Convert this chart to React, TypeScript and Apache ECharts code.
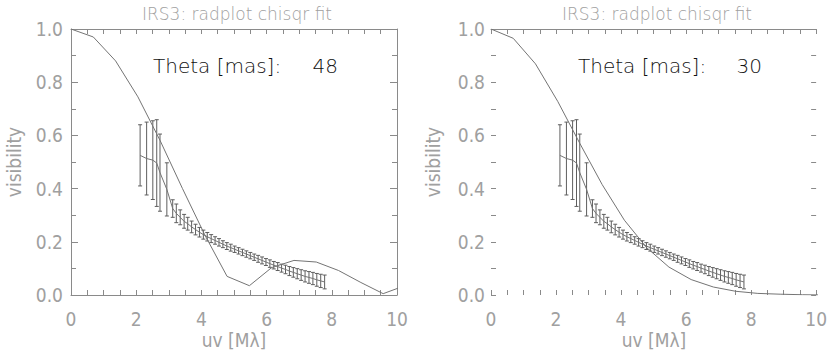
import React, { useEffect, useRef } from "react";
import * as echarts from "echarts";

// model sample positions (uv, Mλ)
const MODEL_UV = [0, 0.684, 1.368, 2.052, 2.736, 3.42, 4.104, 4.788, 5.472, 6.156, 6.84, 7.524, 8.208, 8.892, 9.576, 10.26];
// left panel model (Theta 48 mas)
const LEFT_MODEL = [1.0, 0.97, 0.88, 0.745, 0.58, 0.40, 0.226, 0.07, 0.035, 0.103, 0.13, 0.124, 0.092, 0.047, 0.005, 0.036];
// right panel model (Theta 30 mas)
const RIGHT_MODEL = [1.0, 0.965, 0.869, 0.728, 0.569, 0.415, 0.281, 0.178, 0.105, 0.058, 0.03, 0.014, 0.006, 0.003, 0.001, 0.0];

// observed visibilities
const UV = [2.12, 2.32, 2.51, 2.63, 2.73, 2.94, 3.12, 3.23, 3.35, 3.47, 3.58, 3.70, 3.82, 3.94, 4.06, 4.18, 4.30, 4.42, 4.54, 4.66, 4.78, 4.90, 5.02, 5.14, 5.26, 5.38, 5.50, 5.62, 5.74, 5.86, 5.98, 6.10, 6.22, 6.34, 6.46, 6.58, 6.70, 6.82, 6.94, 7.06, 7.18, 7.30, 7.42, 7.54, 7.66, 7.78];
const VIS = [0.525, 0.513, 0.507, 0.496, 0.46, 0.397, 0.325, 0.307, 0.292, 0.277, 0.268, 0.256, 0.246, 0.236, 0.227, 0.219, 0.212, 0.205, 0.198, 0.191, 0.184, 0.178, 0.172, 0.166, 0.160, 0.154, 0.148, 0.142, 0.136, 0.130, 0.124, 0.118, 0.112, 0.107, 0.101, 0.096, 0.090, 0.085, 0.080, 0.075, 0.070, 0.066, 0.062, 0.057, 0.053, 0.049];
const ERR = [0.115, 0.137, 0.148, 0.163, 0.145, 0.10, 0.033, 0.035, 0.028, 0.026, 0.024, 0.022, 0.02, 0.018, 0.017, 0.016, 0.015, 0.014, 0.014, 0.013, 0.013, 0.013, 0.012, 0.012, 0.012, 0.012, 0.012, 0.012, 0.013, 0.013, 0.013, 0.014, 0.014, 0.015, 0.015, 0.016, 0.017, 0.018, 0.019, 0.02, 0.021, 0.022, 0.023, 0.024, 0.025, 0.026];

const TITLES = ["IRS3: radplot chisqr fit", "IRS3: radplot chisqr fit"];
const THETA_LABEL = "Theta [mas]:";
const THETAS = ["48", "30"];
const X_NAME = "uv [Mλ]";
const Y_NAME = "visibility";

const FONT = "'Liberation Sans Narrow', 'DejaVu Sans Condensed', 'Liberation Sans', sans-serif";
const WIDE_FONT = "'DejaVu Sans', sans-serif";
const LABEL_COLOR = "#a0a0a0";
const AXIS_COLOR = "#8a8a8a";
const LINE_COLOR = "#747474";
const BAR_COLOR = "#5e5e5e";

export default function App() {
  const ref = useRef<HTMLDivElement>(null);
  useEffect(() => {
    if (!ref.current) return;
    const chart = echarts.init(ref.current, undefined, { renderer: "svg" });

    const grids = [
      { left: 71, top: 29, width: 326, height: 266 },
      { left: 491, top: 29, width: 326, height: 266 },
    ];

    const xAxes: any[] = [];
    const yAxes: any[] = [];
    grids.forEach((_, g) => {
      const frame = g === 0;
      const base = {
        type: "value",
        gridIndex: g,
        min: 0,
        max: 10,
        interval: 2,
        splitLine: { show: false },
        axisTick: { show: true, inside: true, length: 5, lineStyle: { color: AXIS_COLOR } },
        minorTick: { show: true, splitNumber: 4, length: 5, lineStyle: { color: AXIS_COLOR } },
      };
      xAxes.push({
        ...base,
        position: "bottom",
        axisLine: { show: frame, onZero: false, lineStyle: { color: AXIS_COLOR } },
        axisLabel: { show: true, margin: 14, color: LABEL_COLOR, fontFamily: FONT, fontSize: 19, fontWeight: 200 },
      });
      xAxes.push({
        ...base,
        position: "top",
        axisLine: { show: true, onZero: false, lineStyle: { color: AXIS_COLOR } },
        axisLabel: { show: false },
      });
      const ybase = {
        type: "value",
        gridIndex: g,
        min: 0,
        max: 1,
        interval: 0.2,
        splitLine: { show: false },
        axisTick: { show: true, inside: true, length: frame ? 7 : 5, lineStyle: { color: AXIS_COLOR } },
        minorTick: { show: true, splitNumber: 2, length: 5, lineStyle: { color: AXIS_COLOR } },
      };
      yAxes.push({
        ...ybase,
        position: "left",
        axisLine: { show: frame, onZero: false, lineStyle: { color: AXIS_COLOR } },
        axisLabel: {
          show: true,
          margin: frame ? 8 : 6,
          color: LABEL_COLOR,
          fontFamily: FONT,
          fontSize: 19,
          fontWeight: 200,
          formatter: (v: number) => v.toFixed(1),
        },
      });
      yAxes.push({
        ...ybase,
        position: "right",
        axisLine: { show: frame, onZero: false, lineStyle: { color: AXIS_COLOR } },
        axisLabel: { show: false },
      });
    });

    const obs = UV.map((u, i) => [u, VIS[i]]);
    const bars = UV.map((u, i) => [u, VIS[i], ERR[i]]);

    const errRender = (params: any, api: any) => {
      const x = api.value(0);
      const y = api.value(1);
      const e = api.value(2);
      const t = api.coord([x, y + e]);
      const b = api.coord([x, y - e]);
      const w = 2;
      const style = { stroke: BAR_COLOR, lineWidth: 1, fill: "none" };
      return {
        type: "group",
        children: [
          { type: "line", shape: { x1: t[0], y1: t[1], x2: b[0], y2: b[1] }, style },
          { type: "line", shape: { x1: t[0] - w, y1: t[1], x2: t[0] + w, y2: t[1] }, style },
          { type: "line", shape: { x1: b[0] - w, y1: b[1], x2: b[0] + w, y2: b[1] }, style },
        ],
      };
    };

    const series: any[] = [];
    [LEFT_MODEL, RIGHT_MODEL].forEach((model, g) => {
      series.push({
        type: "line",
        xAxisIndex: g * 2,
        yAxisIndex: g * 2,
        data: MODEL_UV.map((u, i) => [u, model[i]]),
        symbol: "none",
        clip: true,
        lineStyle: { color: LINE_COLOR, width: 1 },
      });
      series.push({
        type: "line",
        xAxisIndex: g * 2,
        yAxisIndex: g * 2,
        data: obs,
        symbol: "none",
        clip: true,
        lineStyle: { color: LINE_COLOR, width: 1 },
      });
      series.push({
        type: "custom",
        xAxisIndex: g * 2,
        yAxisIndex: g * 2,
        data: bars,
        encode: { x: 0, y: 1 },
        renderItem: errRender,
        clip: true,
      });
    });

    const graphic: any[] = [];
    grids.forEach((gr, g) => {
      const cx = gr.left + gr.width / 2;
      graphic.push({
        type: "text",
        x: cx + 3,
        y: 14,
        style: { text: TITLES[g], fill: LABEL_COLOR, font: `200 17px ${WIDE_FONT}`, align: "center", verticalAlign: "middle" },
      });
      graphic.push({
        type: "text",
        x: cx,
        y: 340,
        style: { text: X_NAME, fill: LABEL_COLOR, font: `200 19px ${FONT}`, align: "center", verticalAlign: "middle" },
      });
      graphic.push({
        type: "text",
        x: g === 0 ? 14 : 433,
        y: 162,
        rotation: Math.PI / 2,
        style: { text: Y_NAME, fill: LABEL_COLOR, font: `200 19px ${FONT}`, align: "center", verticalAlign: "middle" },
      });
      graphic.push({
        type: "text",
        x: g === 0 ? 153 : 578,
        y: 66,
        style: { text: THETA_LABEL, fill: "#111111", font: `200 20px ${WIDE_FONT}`, align: "left", verticalAlign: "middle" },
      });
      graphic.push({
        type: "text",
        x: g === 0 ? 338 : 762,
        y: 66,
        style: { text: THETAS[g], fill: "#111111", font: `200 20px ${WIDE_FONT}`, align: "right", verticalAlign: "middle" },
      });
    });

    chart.setOption({
      animation: false,
      backgroundColor: "#ffffff",
      grid: grids,
      xAxis: xAxes,
      yAxis: yAxes,
      series,
      graphic,
    });
    return () => chart.dispose();
  }, []);
  return <div ref={ref} style={{ position: "fixed", left: 0, top: 0, width: 830, height: 353 }} />;
}
